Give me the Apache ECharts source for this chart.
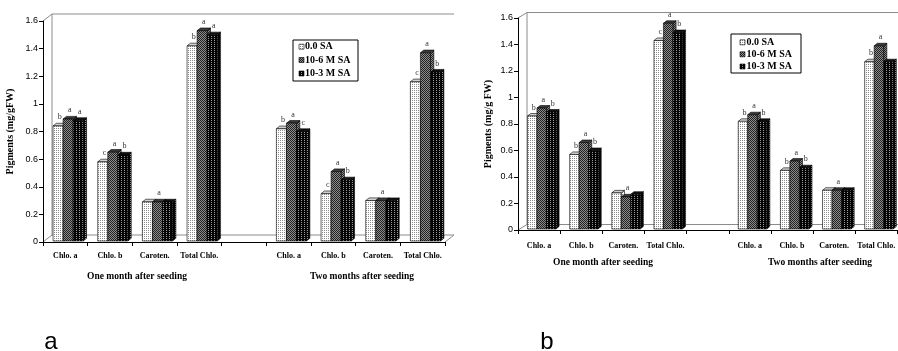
<!DOCTYPE html>
<html>
<head>
<meta charset="utf-8">
<script src="https://cdn.jsdelivr.net/npm/echarts@6/dist/echarts.min.js"></script>
<style>
  html, body { margin: 0; padding: 0; background: #fff; }
  #main { width: 898px; height: 351px; }
</style>
</head>
<body>
<div id="main"></div>
<script>
// categories (index 4 is the gap between the two periods)
var categories = ['Chlo. a', 'Chlo. b', 'Caroten.', 'Total Chlo.', '', 'Chlo. a', 'Chlo. b', 'Caroten.', 'Total Chlo.'];
var seriesNames = ['0.0 SA', '10-6 M SA', '10-3 M SA'];
var yTicks = [0, 0.2, 0.4, 0.6, 0.8, 1, 1.2, 1.4, 1.6];

// chart a
var a_sa0 = [0.84, 0.58, 0.29, 1.42, null, 0.82, 0.35, 0.30, 1.16];
var a_sa6 = [0.89, 0.65, 0.29, 1.53, null, 0.86, 0.51, 0.30, 1.37];
var a_sa3 = [0.88, 0.63, 0.29, 1.50, null, 0.80, 0.45, 0.30, 1.23];
var a_let0 = ['b', 'c', '', 'b', '', 'b', 'c', '', 'c'];
var a_let6 = ['a', 'a', 'a', 'a', '', 'a', 'a', 'a', 'a'];
var a_let3 = ['a', 'b', '', 'a', '', 'c', 'b', '', 'b'];

// chart b
var b_sa0 = [0.86, 0.57, 0.28, 1.43, null, 0.82, 0.45, 0.30, 1.27];
var b_sa6 = [0.92, 0.66, 0.25, 1.56, null, 0.87, 0.52, 0.30, 1.39];
var b_sa3 = [0.89, 0.60, 0.27, 1.49, null, 0.82, 0.47, 0.30, 1.27];
var b_let0 = ['b', 'b', '', 'c', '', 'b', 'b', '', 'b'];
var b_let6 = ['a', 'a', 'a', 'a', '', 'a', 'a', 'a', 'a'];
var b_let3 = ['b', 'b', '', 'b', '', 'b', 'b', '', ''];

var SERIF = 'Liberation Serif';
var SANS = 'Liberation Sans';

// little bitmap fills, like the old excel hatches
function makePattern(w, h, bg, fg, dots) {
  var c = document.createElement('canvas');
  c.width = w; c.height = h;
  var ctx = c.getContext('2d');
  ctx.fillStyle = bg;
  ctx.fillRect(0, 0, w, h);
  ctx.fillStyle = fg;
  dots.forEach(function (p) { ctx.fillRect(p[0], p[1], 1, 1); });
  return { image: c, repeat: 'repeat' };
}
var fills = [
  makePattern(2, 2, '#ffffff', '#8a8a8a', [[0, 0]]),
  makePattern(2, 2, '#8c8c8c', '#222222', [[0, 0], [1, 1]]),
  makePattern(3, 2, '#050505', '#9a9a9a', [[1, 0]])
];
var topFills = ['#d0d0d0', '#3a3a3a', '#111111'];
var sideFills = [fills[0], fills[1], fills[2]];

function bar3d(k, letters) {
  return function (params, api) {
    var v = api.value(1);
    if (v == null || isNaN(v)) return null;
    var band = api.size([1, 0])[0];
    var base = api.coord([api.value(0), 0]);
    var top = api.coord([api.value(0), v]);
    var w = band * 0.225;
    var x0 = base[0] - band / 2 + band * 0.225 + k * w;
    var dx = band * 0.075, dy = dx * 0.8;
    var yb = base[1] - 1, yt = top[1];
    var line = { stroke: '#000', lineWidth: 0.6 };
    var kids = [
      { type: 'polygon', shape: { points: [[x0 + w, yt], [x0 + w + dx, yt - dy], [x0 + w + dx, yb - dy], [x0 + w, yb]] },
        style: Object.assign({ fill: sideFills[k] }, line) },
      { type: 'polygon', shape: { points: [[x0, yt], [x0 + dx, yt - dy], [x0 + w + dx, yt - dy], [x0 + w, yt]] },
        style: Object.assign({ fill: topFills[k] }, line) },
      { type: 'rect', shape: { x: x0, y: yt, width: w, height: yb - yt },
        style: Object.assign({ fill: fills[k] }, line) }
    ];
    var lt = letters[params.dataIndex];
    if (lt) {
      kids.push({ type: 'text', x: x0 + w / 2 + dx / 2, y: yt - dy - 2,
        style: { text: lt, fill: '#333', font: '8px "' + SERIF + '"', align: 'center', verticalAlign: 'bottom' } });
    }
    return { type: 'group', children: kids };
  };
}

function mkSeries(vals, k, letters, idx) {
  return {
    type: 'custom', name: seriesNames[k],
    xAxisIndex: idx, yAxisIndex: idx,
    renderItem: bar3d(k, letters),
    data: vals.map(function (v, i) { return [i, v == null ? '-' : v]; })
  };
}

function xAx(idx, margin) {
  return {
    type: 'category', gridIndex: idx, data: categories,
    axisLine: { lineStyle: { color: '#000', width: 1 } },
    axisTick: { show: true, length: 4, lineStyle: { color: '#000' } },
    axisLabel: { interval: 0, margin: margin, color: '#000', fontFamily: SERIF, fontWeight: 'bold', fontSize: 8 }
  };
}
function yAx(idx, name, gap) {
  return {
    type: 'value', gridIndex: idx, min: 0, max: 1.6, interval: 0.2,
    name: name, nameLocation: 'middle', nameGap: gap,
    nameTextStyle: { fontFamily: SERIF, fontWeight: 'bold', fontSize: 10, color: '#000' },
    axisLine: { show: true, lineStyle: { color: '#000', width: 1 } },
    axisTick: { show: true, length: 4, lineStyle: { color: '#000' } },
    axisLabel: { margin: 5, color: '#000', fontFamily: SANS, fontSize: 9,
      formatter: function (v) { return String(+v.toFixed(1)); } },
    splitLine: { show: false }
  };
}

// 3d frame of each panel (back wall + floor), grey
function frame(L, T, R, B, dx, dy) {
  var s = { stroke: '#8c8c8c', lineWidth: 1 };
  function ln(x1, y1, x2, y2) { return { type: 'line', shape: { x1: x1, y1: y1, x2: x2, y2: y2 }, style: s, z: -1 }; }
  return [
    ln(L, T, L + dx, T - dy),
    ln(L + dx, T - dy, R + dx, T - dy),
    ln(L + dx, T - dy, L + dx, B - dy),
    ln(L, B, L + dx, B - dy),
    ln(L + dx, B - dy, R + dx, B - dy),
    ln(R, B, R + dx, B - dy)
  ];
}

function legendBox(x, y, w, h, rows, iconX, textX) {
  var els = [{ type: 'rect', shape: { x: x, y: y, width: w, height: h }, style: { fill: '#fff', stroke: '#000', lineWidth: 1 } }];
  seriesNames.forEach(function (n, i) {
    els.push({ type: 'rect', shape: { x: iconX, y: rows[i] - 2.5, width: 5, height: 5 }, style: { fill: fills[i], stroke: '#000', lineWidth: 0.6 } });
    els.push({ type: 'text', x: textX, y: rows[i], style: { text: n, font: 'bold 10px "' + SERIF + '"', fill: '#000', verticalAlign: 'middle' } });
  });
  return els;
}

function txt(x, y, s, font) {
  return { type: 'text', x: x, y: y, style: { text: s, font: font, fill: '#000', align: 'center', verticalAlign: 'middle' } };
}

var gA = { L: 43, T: 21, R: 445, B: 242 };
var gB = { L: 518, T: 18, R: 902, B: 230 };

var graphics = []
  .concat(frame(gA.L, gA.T, gA.R, gA.B, 9, 7))
  .concat(frame(gB.L, gB.T, gB.R, gB.B, 9, 5.5))
  .concat(legendBox(293, 40, 65, 41, [46.7, 60, 73.5], 299, 305))
  .concat(legendBox(731, 34, 70, 39, [42.3, 54.3, 66.5], 740, 746.5))
  .concat([
    txt(137, 277, 'One month after seeding', 'bold 9.5px "' + SERIF + '"'),
    txt(362, 277, 'Two months after seeding', 'bold 9.5px "' + SERIF + '"'),
    txt(603, 263, 'One month after seeding', 'bold 9.5px "' + SERIF + '"'),
    txt(820, 263, 'Two months after seeding', 'bold 9.5px "' + SERIF + '"'),
    txt(51, 342, 'a', '24px "' + SANS + '"'),
    txt(547, 342, 'b', '24px "' + SANS + '"')
  ]);

var chart = echarts.init(document.getElementById('main'));
chart.setOption({
  animation: false,
  backgroundColor: '#fff',
  grid: [
    { left: gA.L, top: gA.T, width: gA.R - gA.L, height: gA.B - gA.T },
    { left: gB.L, top: gB.T, width: gB.R - gB.L, height: gB.B - gB.T }
  ],
  xAxis: [xAx(0, 10), xAx(1, 12)],
  yAxis: [yAx(0, 'Pigments (mg/gFW)', 28), yAx(1, 'Pigments (mg/g FW)', 25)],
  series: [
    mkSeries(a_sa0, 0, a_let0, 0),
    mkSeries(a_sa6, 1, a_let6, 0),
    mkSeries(a_sa3, 2, a_let3, 0),
    mkSeries(b_sa0, 0, b_let0, 1),
    mkSeries(b_sa6, 1, b_let6, 1),
    mkSeries(b_sa3, 2, b_let3, 1)
  ],
  graphic: graphics
});
</script>
</body>
</html>
